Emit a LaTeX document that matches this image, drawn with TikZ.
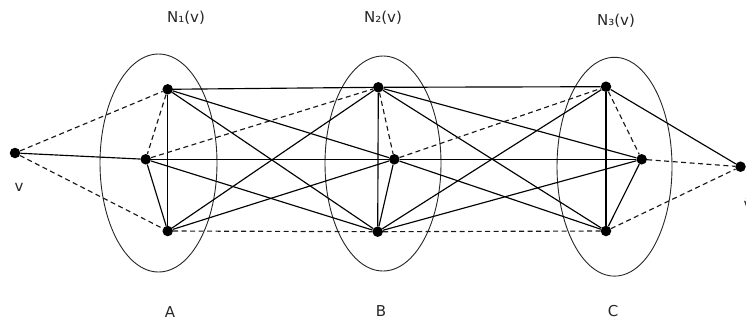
\documentclass[tikz,border=0pt]{standalone}
\usepackage{fontspec}
\setmainfont{DejaVu Sans}
\begin{document}
\begin{tikzpicture}[x=1pt,y=-1pt,
  vtx/.style={circle,fill=black,inner sep=0pt,minimum size=10.5pt},
  solidedge/.style={draw=black,line width=1.15pt},
  dashededge/.style={draw=black!90,line width=1.15pt,dash pattern=on 5pt off 3.5pt},
  setellipse/.style={draw=black!85,line width=0.9pt},
  lbl/.style={font=\fontsize{15}{18}\selectfont,text=black!85,inner sep=0pt}]
\useasboundingbox (0,0) rectangle (746,322);
% ellipses
\draw[setellipse] (158.5,163) ellipse [x radius=58.5, y radius=109];
\draw[setellipse] (383,163.5) ellipse [x radius=58, y radius=107.5];
\draw[setellipse] (614.5,166.7) ellipse [x radius=57.5, y radius=109.4];
% vertices
\node[vtx] (v)  at (15,153) {};
\node[vtx] (a1) at (167.7,89.3) {};
\node[vtx] (a2) at (145.7,159.3) {};
\node[vtx] (a3) at (167.7,231) {};
\node[vtx] (b1) at (378.3,87.3) {};
\node[vtx] (b2) at (394.3,159.3) {};
\node[vtx] (b3) at (377.7,231.7) {};
\node[vtx] (c1) at (606,86.7) {};
\node[vtx] (c2) at (641.7,159.3) {};
\node[vtx] (c3) at (606,231) {};
\node[vtx] (w)  at (740.5,166.7) {};
% labels
\node[lbl] (lv) at (19,187) {v};
\node[lbl] (lw) at (748,204) {\=v};
\node[lbl] (n1) at (186,18) {N₁(v)};
\node[lbl] (n2) at (383,18) {N₂(v)};
\node[lbl] (n3) at (616,21) {N₃(v)};
\node[lbl] (la) at (170,312) {A};
\node[lbl] (lb) at (381,311) {B};
\node[lbl] (lc) at (613,311) {C};
% edges from v
\draw[dashededge] (v) -- (a1);
\draw[solidedge]  (v) -- (a2);
\draw[dashededge] (v) -- (a3);
% inside A
\draw[dashededge] (a1) -- (a2);
\draw[solidedge]  (a2) -- (a3);
\draw[solidedge]  (a1) -- (a3);
% inside B
\draw[dashededge] (b1) -- (b2);
\draw[solidedge]  (b2) -- (b3);
\draw[solidedge]  (b1) -- (b3);
% inside C
\draw[dashededge] (c1) -- (c2);
\draw[solidedge]  (c2) -- (c3);
\draw[solidedge]  (c1) -- (c3);
% A to B
\draw[solidedge]  (a1) -- (b1);
\draw[solidedge]  (a1) -- (b2);
\draw[solidedge]  (a1) -- (b3);
\draw[dashededge] (a2) -- (b1);
\draw[solidedge]  (a2) -- (b2);
\draw[solidedge]  (a2) -- (b3);
\draw[solidedge]  (a3) -- (b1);
\draw[solidedge]  (a3) -- (b2);
\draw[dashededge] (a3) -- (b3);
% B to C
\draw[solidedge]  (b1) -- (c1);
\draw[solidedge]  (b1) -- (c2);
\draw[solidedge]  (b1) -- (c3);
\draw[dashededge] (b2) -- (c1);
\draw[solidedge]  (b2) -- (c2);
\draw[solidedge]  (b2) -- (c3);
\draw[solidedge]  (b3) -- (c1);
\draw[solidedge]  (b3) -- (c2);
\draw[dashededge] (b3) -- (c3);
% edges to w
\draw[solidedge]  (c1) -- (w);
\draw[dashededge] (c2) -- (w);
\draw[dashededge] (c3) -- (w);
\end{tikzpicture}
\end{document}
